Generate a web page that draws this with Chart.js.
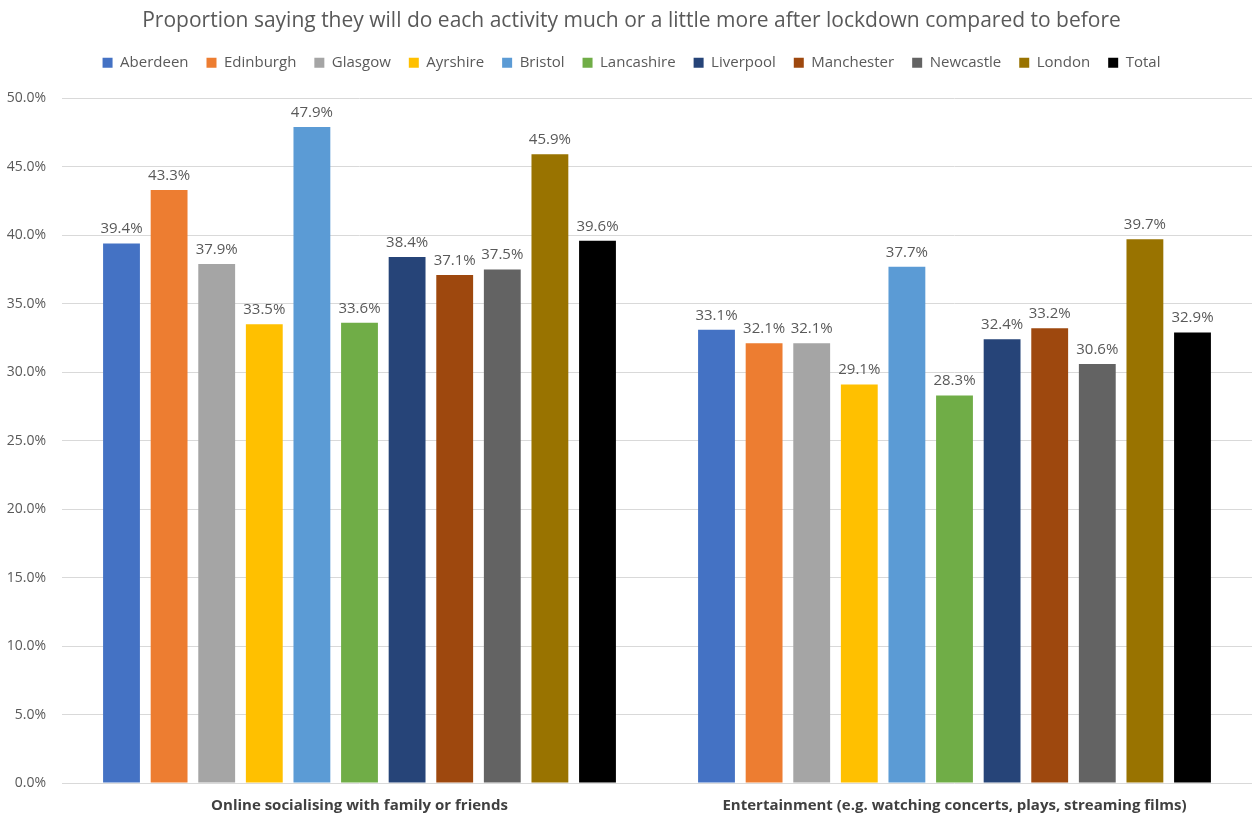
<!DOCTYPE html>
<html>
<head>
<meta charset="utf-8">
<script src="https://cdn.jsdelivr.net/npm/chart.js@4/dist/chart.umd.min.js"></script>
<style>
  html, body { margin: 0; padding: 0; background: #ffffff; }
  #wrap { width: 1252px; height: 820px; }
</style>
</head>
<body>
<div id="wrap"><canvas id="chart" width="1252" height="820"></canvas></div>
<script>
// Survey activities (x-axis categories)
const categories = [
  'Online socialising with family or friends',
  'Entertainment (e.g. watching concerts, plays, streaming films)'
];

// Areas surveyed, in legend order
const areas = ['Aberdeen', 'Edinburgh', 'Glasgow', 'Ayrshire', 'Bristol', 'Lancashire',
               'Liverpool', 'Manchester', 'Newcastle', 'London', 'Total'];

// Percent saying "much or a little more" – one value per area
const onlineSocialising = [39.4, 43.3, 37.9, 33.5, 47.9, 33.6, 38.4, 37.1, 37.5, 45.9, 39.6];
const entertainment     = [33.1, 32.1, 32.1, 29.1, 37.7, 28.3, 32.4, 33.2, 30.6, 39.7, 32.9];

// Y axis ticks
const yTicks = [0, 5, 10, 15, 20, 25, 30, 35, 40, 45, 50];

const areaColors = ['#4472C4', '#ED7D31', '#A5A5A5', '#FFC000', '#5B9BD5', '#70AD47',
                    '#264478', '#9E480E', '#636363', '#997300', '#000000'];

const FONT = "'Open Sans', 'Noto Sans', sans-serif";
const TEXT_GREY = '#595959';

const datasets = areas.map((name, i) => ({
  label: name,
  data: [onlineSocialising[i], entertainment[i]],
  backgroundColor: areaColors[i],
  borderWidth: 0,
  barPercentage: 0.774,
  categoryPercentage: 0.88
}));

// Writes each bar's value above it
const valueLabels = {
  id: 'valueLabels',
  afterDatasetsDraw(chart) {
    const ctx = chart.ctx;
    ctx.save();
    ctx.font = "15px " + FONT;
    ctx.fillStyle = TEXT_GREY;
    ctx.textAlign = 'center';
    ctx.textBaseline = 'alphabetic';
    chart.data.datasets.forEach((ds, di) => {
      const meta = chart.getDatasetMeta(di);
      meta.data.forEach((bar, j) => {
        ctx.fillText(ds.data[j].toFixed(1) + '%', bar.x, bar.y - 10);
      });
    });
    ctx.restore();
  }
};

new Chart(document.getElementById('chart'), {
  type: 'bar',
  data: { labels: categories, datasets },
  plugins: [valueLabels],
  options: {
    responsive: false,
    animation: false,
    layout: { padding: { left: 7, right: -4, top: 0, bottom: 5 } },
    plugins: {
      tooltip: { enabled: false },
      title: {
        display: true,
        text: 'Proportion saying they will do each activity much or a little more after lockdown compared to before',
        color: TEXT_GREY,
        font: { family: FONT, size: 21, weight: 'normal', lineHeight: 1.2 },
        padding: { top: 8, bottom: 4 }
      },
      legend: {
        position: 'top',
        labels: {
          color: TEXT_GREY,
          font: { family: FONT, size: 15 },
          boxWidth: 10,
          boxHeight: 10,
          padding: 18
        }
      }
    },
    scales: {
      x: {
        grid: { display: false, drawTicks: false },
        border: { display: false },
        ticks: {
          color: '#404040',
          font: { family: FONT, size: 15, weight: 'bold', lineHeight: 1.2 },
          padding: 14
        },
        afterFit(scale) { scale.height = 32; }
      },
      // empty band between the legend and the plot
      xGap: {
        type: 'category',
        position: 'top',
        labels: categories,
        grid: { display: false, drawTicks: false },
        border: { display: false },
        ticks: { display: false },
        afterFit(scale) { scale.height = 18; }
      },
      y: {
        min: 0,
        max: 50,
        afterBuildTicks(axis) { axis.ticks = yTicks.map(v => ({ value: v })); },
        grid: { color: '#d9d9d9', lineWidth: 1, drawTicks: false },
        border: { display: false },
        ticks: {
          color: TEXT_GREY,
          font: { family: FONT, size: 14 },
          padding: 16,
          callback: v => v.toFixed(1) + '%'
        },
        afterFit(scale) { scale.width = 55; }
      }
    }
  }
});
</script>
</body>
</html>
